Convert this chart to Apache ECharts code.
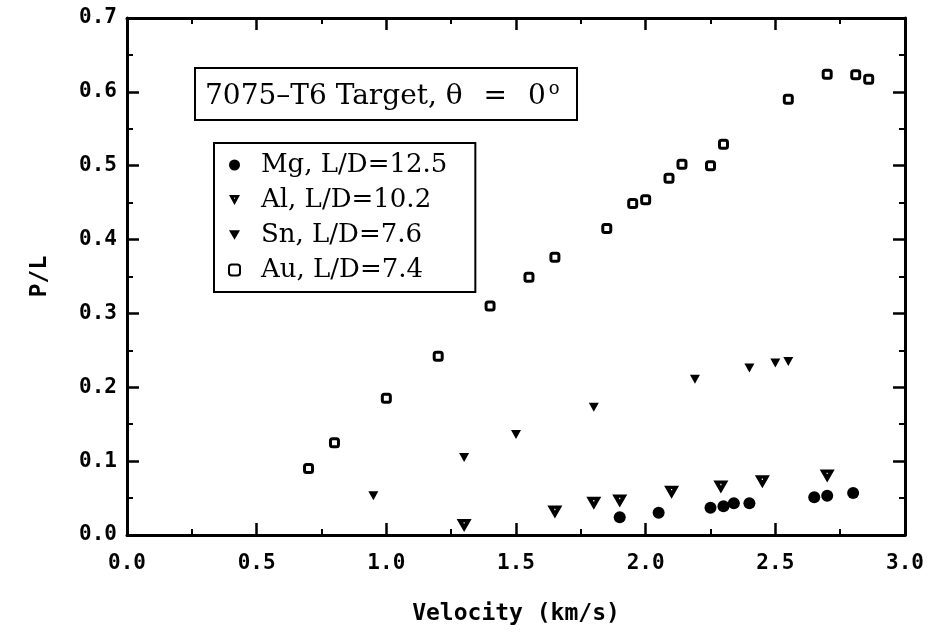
<!DOCTYPE html>
<html>
<head>
<meta charset="utf-8">
<script src="https://cdn.jsdelivr.net/npm/echarts@6/dist/echarts.min.js"></script>
<style>html,body{margin:0;padding:0;background:#fff}#c{width:933px;height:636px}</style>
</head>
<body>
<div id="c"></div>
<script>
// Data
const mgV = [1.90, 2.05, 2.25, 2.30, 2.34, 2.40, 2.65, 2.70, 2.80];
const mgP = [0.024, 0.030, 0.037, 0.039, 0.043, 0.043, 0.051, 0.053, 0.057];
const alV = [1.30, 1.65, 1.80, 1.90, 2.10, 2.29, 2.45, 2.70];
const alP = [0.013, 0.031, 0.043, 0.046, 0.058, 0.065, 0.072, 0.080];
const snV = [0.95, 1.30, 1.50, 1.80, 2.19, 2.40, 2.50, 2.55];
const snP = [0.053, 0.105, 0.136, 0.173, 0.211, 0.226, 0.233, 0.235];
const auV = [0.70, 0.80, 1.00, 1.20, 1.40, 1.55, 1.65, 1.85, 1.95, 2.00, 2.09, 2.14, 2.25, 2.30, 2.55, 2.70, 2.81, 2.86];
const auP = [0.090, 0.125, 0.185, 0.242, 0.310, 0.349, 0.376, 0.415, 0.449, 0.454, 0.483, 0.502, 0.500, 0.529, 0.590, 0.624, 0.623, 0.617];
const seriesNames = ['Mg, L/D=12.5', 'Al, L/D=10.2', 'Sn, L/D=7.6', 'Au, L/D=7.4'];
const titleLeft = '7075\u2013T6 Target, \u03B8';
const titleEq = '=';
const titleRight = '0';
const xTitle = 'Velocity (km/s)';
const yTitle = 'P/L';

const zip = (a, b) => a.map((v, i) => [v, b[i]]);
const triHole = 'path://M0,0 L20,0 L10,18 Z M9.2,4.5 L9.2,6.5 L10.8,6.5 L10.8,4.5 Z';
const tri = 'path://M0,0 L20,0 L10,17 Z';
const axisFont = { fontFamily: 'DejaVu Sans Mono', fontWeight: 'bold', fontSize: 21, color: '#000' };

const chart = echarts.init(document.getElementById('c'), null, { renderer: 'canvas' });

function mkAxis(pos, showLabel, isX) {
  return {
    type: 'value', position: pos, min: 0, max: isX ? 3 : 0.7, interval: isX ? 0.5 : 0.1,
    axisLine: { show: true, onZero: false, lineStyle: { color: '#000', width: 3 } },
    axisTick: { show: true, inside: true, length: 12, lineStyle: { color: '#000', width: 2.5 } },
    minorTick: { show: true, splitNumber: 2, length: 6, lineStyle: { color: '#000', width: 2 } },
    splitLine: { show: false },
    axisLabel: Object.assign({ show: showLabel, margin: isX ? 18 : 10, formatter: v => v.toFixed(1) }, axisFont)
  };
}

const xMain = mkAxis('bottom', true, true);
xMain.name = xTitle; xMain.nameLocation = 'middle'; xMain.nameGap = 68;
xMain.nameTextStyle = { fontFamily: 'DejaVu Sans Mono', fontWeight: 'bold', fontSize: 23, color: '#000' };
const yMain = mkAxis('left', true, false);
yMain.name = yTitle; yMain.nameLocation = 'middle'; yMain.nameGap = 75;
yMain.nameTextStyle = { fontFamily: 'DejaVu Sans Mono', fontWeight: 'bold', fontSize: 23, color: '#000' };

const solid = { color: '#000', opacity: 1 };
const serif = 'DejaVu Serif';

chart.setOption({
  animation: false,
  backgroundColor: '#fff',
  grid: { left: 127, right: 28, top: 18, bottom: 101 },
  title: {
    text: titleLeft + ' {eq|' + titleEq + '} ' + titleRight + '{sup|o}',
    left: 195, top: 68,
    borderColor: '#000', borderWidth: 2,
    padding: [12, 18, 9, 10],
    textStyle: {
      fontFamily: serif, fontSize: 28, fontWeight: 'normal', color: '#000',
      rich: {
        eq: { fontFamily: serif, fontSize: 28, padding: [0, 12, 0, 12], color: '#000' },
        sup: { fontFamily: serif, fontSize: 18, verticalAlign: 'top', padding: [0, 0, 16, 3], color: '#000' }
      }
    }
  },
  legend: {
    orient: 'vertical', left: 214, top: 143,
    borderColor: '#000', borderWidth: 2,
    padding: [9, 28, 9, 14],
    itemGap: 9, itemWidth: 11, itemHeight: 11,
    textStyle: { fontFamily: serif, fontSize: 26, color: '#000', padding: [0, 0, 0, 16] },
    data: seriesNames
  },
  xAxis: [xMain, mkAxis('top', false, true)],
  yAxis: [yMain, mkAxis('right', false, false)],
  series: [
    { name: seriesNames[0], type: 'scatter', data: zip(mgV, mgP), symbol: 'circle', symbolSize: 12, itemStyle: solid },
    { name: seriesNames[1], type: 'scatter', data: zip(alV, alP), symbol: triHole, symbolSize: [15, 13], itemStyle: solid },
    { name: seriesNames[2], type: 'scatter', data: zip(snV, snP), symbol: tri, symbolSize: [10, 9], itemStyle: solid },
    { name: seriesNames[3], type: 'scatter', data: zip(auV, auP), symbol: 'roundRect', symbolSize: 8, itemStyle: { color: '#fff', borderColor: '#000', borderWidth: 3, opacity: 1 } }
  ]
});
</script>
</body>
</html>
